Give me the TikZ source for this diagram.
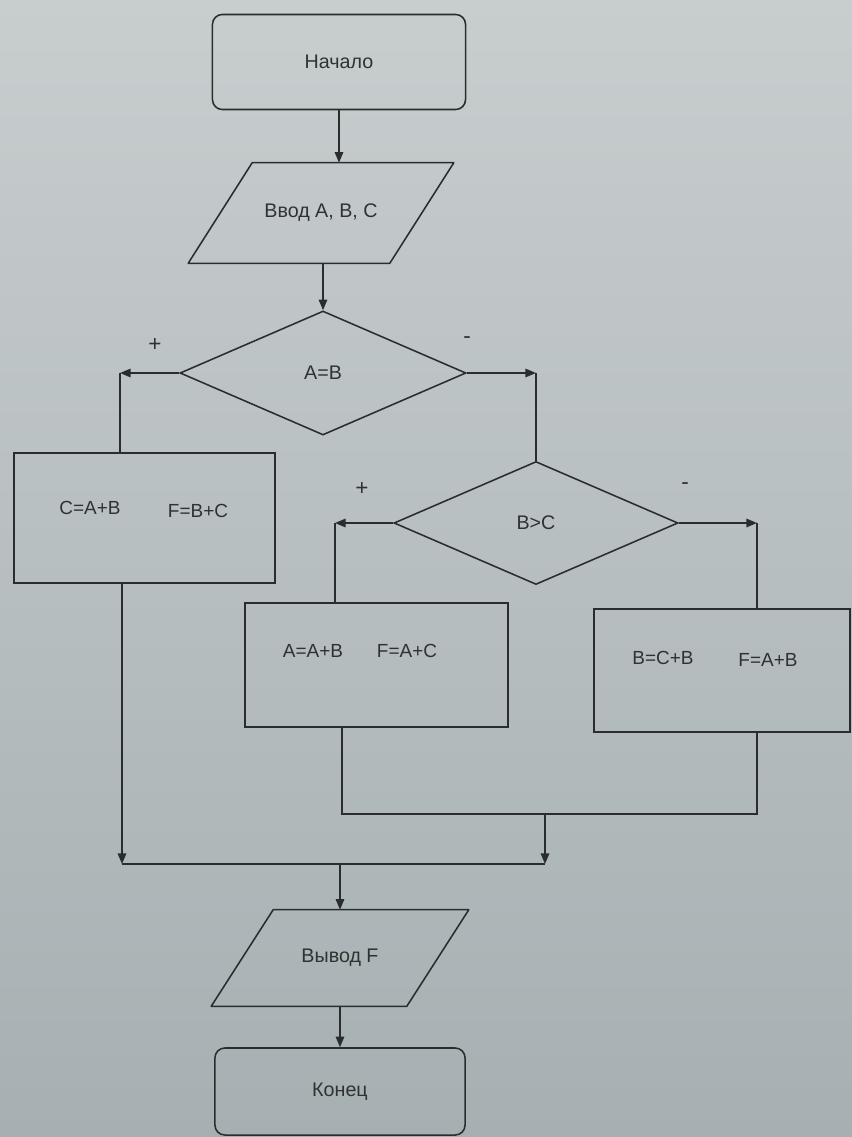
\documentclass[tikz,border=0pt]{standalone}
\usepackage{fontspec}
\setmainfont{Liberation Sans}
\usetikzlibrary{shapes.geometric,arrows.meta}
\definecolor{bgtop}{HTML}{C8CDCE}
\definecolor{bgbot}{HTML}{A6B0B2}
\definecolor{ink}{HTML}{2A2D2E}
\definecolor{txt}{HTML}{2F3233}
\tikzset{
  base/.style={draw=ink, line width=1.1pt, inner sep=0pt, text=txt,
    font=\fontsize{14}{16}\selectfont},
  term/.style={base, rectangle, rounded corners=7pt},
  procbox/.style={base, rectangle},
  iobody/.style={rectangle, inner sep=0pt, text=txt, font=\fontsize{14}{16}\selectfont},
  decide/.style={base, diamond},
  lbl/.style={inner sep=0pt, text=txt, font=\fontsize{13.5}{15}\selectfont},
  sgn/.style={inner sep=0pt, text=txt, font=\fontsize{16}{18}\selectfont},
  link/.style={draw=ink, line width=1.1pt},
  arr/.style={link, -{Triangle[length=7.5pt,width=6pt]}},
  outline/.style={draw=ink, line width=1.1pt, line join=round}
}
\begin{document}
\begin{tikzpicture}[x=0.025cm, y=-0.025cm]
\shade[top color=bgtop, bottom color=bgbot] (0,0) rectangle (852,1137);
\useasboundingbox (0,0) rectangle (852,1137);

% nodes
\node[term, minimum width=253*0.7113pt, minimum height=95*0.7113pt] (start) at (339,62) {Начало};
\node[iobody, minimum width=201*0.7113pt, minimum height=100*0.7113pt] (inp) at (321,213) {Ввод A, B, C};
\draw[outline] ([xshift=32*0.7113pt]inp.north west) -- ([xshift=32*0.7113pt]inp.north east)
  -- ([xshift=-32*0.7113pt]inp.south east) -- ([xshift=-32*0.7113pt]inp.south west) -- cycle;
\node[decide, minimum width=286*0.7113pt, minimum height=124*0.7113pt] (d1) at (323,373) {A=B};
\node[procbox, minimum width=261*0.7113pt, minimum height=130*0.7113pt] (b1) at (144.5,518) {};
\node[decide, minimum width=284*0.7113pt, minimum height=123*0.7113pt] (d2) at (536,523) {B>C};
\node[procbox, minimum width=263*0.7113pt, minimum height=124*0.7113pt] (b2) at (376.5,665) {};
\node[procbox, minimum width=256*0.7113pt, minimum height=123*0.7113pt] (b3) at (722,670.5) {};
\node[iobody, minimum width=195*0.7113pt, minimum height=96*0.7113pt] (out) at (340,958) {Вывод F};
\draw[outline] ([xshift=31*0.7113pt]out.north west) -- ([xshift=31*0.7113pt]out.north east)
  -- ([xshift=-31*0.7113pt]out.south east) -- ([xshift=-31*0.7113pt]out.south west) -- cycle;
\node[term, minimum width=250*0.7113pt, minimum height=87*0.7113pt] (stop) at (340,1091.5) {Конец};

% box texts
\node[lbl] (t1a) at (90,508) {C=A+B};
\node[lbl] (t1b) at (198,511) {F=B+C};
\node[lbl] (t2a) at (313,651) {A=A+B};
\node[lbl] (t2b) at (407,651) {F=A+C};
\node[lbl] (t3a) at (663,658) {B=C+B};
\node[lbl] (t3b) at (768,660) {F=A+B};

% branch signs
\node[sgn] (p1) at (155,345) {+};
\node[sgn] (n1) at (467,340) {-};
\node[sgn] (p2) at (362,489) {+};
\node[sgn] (n2) at (685,486) {-};

% helper coordinates
\coordinate (c1) at (120,373);
\coordinate (c2) at (536,373);
\coordinate (c3) at (335,523);
\coordinate (c4) at (757,523);
\coordinate (m1) at (342,814);
\coordinate (m2) at (757,814);
\coordinate (m3) at (545,814);
\coordinate (m4) at (545,864);
\coordinate (m5) at (122,864);

% connectors
\draw[arr] (start.south) -- (start.south |- inp.north);
\draw[arr] (inp.south -| d1.north) -- (d1.north);
\draw[arr] (d1.west) -- (c1);
\draw[link] (c1) -- (c1 |- b1.north);
\draw[arr] (d1.east) -- (c2);
\draw[link] (c2) -- (d2.north);
\draw[arr] (d2.west) -- (c3);
\draw[link] (c3) -- (c3 |- b2.north);
\draw[arr] (d2.east) -- (c4);
\draw[link] (c4) -- (c4 |- b3.north);
\draw[link] (m1 |- b2.south) -- (m1) -- (m2) -- (m2 |- b3.south);
\draw[arr] (m3) -- (m4);
\draw[arr] (m5 |- b1.south) -- (m5);
\draw[link] (m5) -- (m4);
\draw[arr] (out.north |- m4) -- (out.north);
\draw[arr] (out.south) -- (stop.north);
\end{tikzpicture}
\end{document}
